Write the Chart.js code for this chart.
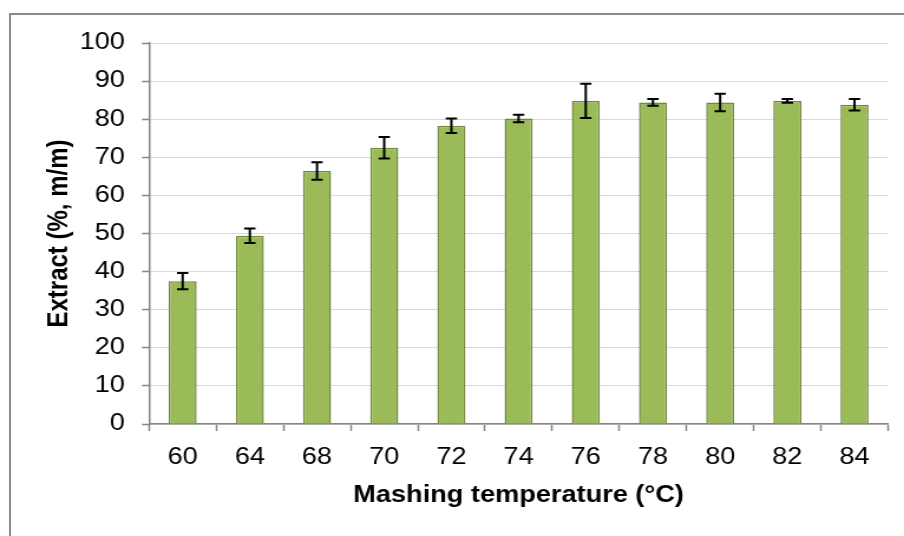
<!DOCTYPE html>
<html>
<head>
<meta charset="utf-8">
<script src="https://cdn.jsdelivr.net/npm/chart.js@4.4.1/dist/chart.umd.min.js"></script>
<style>
  html, body { margin: 0; padding: 0; background: #fff; overflow: hidden; }
  body { width: 904px; height: 536px; position: relative; }
  /* the chart is laid out narrower, then widened so the text gets the same broad look */
  #wrap { position: absolute; left: 0; top: 0; width: 766px; height: 536px;
          transform: scaleX(1.1802); transform-origin: 0 0; }
  #frame { position: absolute; left: 9px; top: 13px; width: 920px; height: 560px;
           border-top: 2px solid #8a8a8a; border-left: 2px solid #8a8a8a; pointer-events: none; }
</style>
</head>
<body>
<div id="wrap"><canvas id="extractChart" width="766" height="536"></canvas></div>
<div id="frame"></div>
<script>
// mashing temperature (°C) vs extract (%, m/m), with standard deviation
const temps = ['60', '64', '68', '70', '72', '74', '76', '78', '80', '82', '84'];
const extract = [37.5, 49.4, 66.4, 72.5, 78.3, 80.2, 84.8, 84.4, 84.4, 84.8, 83.8];
const extractSd = [2.1, 1.9, 2.3, 2.8, 1.9, 1.0, 4.5, 0.9, 2.3, 0.5, 1.5];
const yTicks = [0, 10, 20, 30, 40, 50, 60, 70, 80, 90, 100];

const axisGray = '#868686';
const fontFamily = '"Liberation Sans", Arial, sans-serif';

// draws the I-shaped error bars on top of every bar
const errorBars = {
  id: 'errorBars',
  afterDatasetsDraw(chart) {
    const ctx = chart.ctx;
    const yScale = chart.scales.y;
    const meta = chart.getDatasetMeta(0);
    ctx.save();
    ctx.strokeStyle = '#000';
    ctx.lineWidth = 2;
    meta.data.forEach((bar, i) => {
      const v = extract[i], e = extractSd[i];
      const yHi = yScale.getPixelForValue(v + e);
      const yLo = yScale.getPixelForValue(v - e);
      const cap = 4.8;
      ctx.beginPath();
      ctx.moveTo(bar.x, yHi); ctx.lineTo(bar.x, yLo);
      ctx.moveTo(bar.x - cap, yHi); ctx.lineTo(bar.x + cap, yHi);
      ctx.moveTo(bar.x - cap, yLo); ctx.lineTo(bar.x + cap, yLo);
      ctx.stroke();
    });
    ctx.restore();
  }
};

const ctx = document.getElementById('extractChart').getContext('2d');
const chart = new Chart(ctx, {
  type: 'bar',
  data: {
    labels: temps,
    datasets: [{
      label: 'Extract',
      data: extract,
      backgroundColor: '#9BBB59',
      borderColor: '#71893F',
      borderWidth: 1.5,
      categoryPercentage: 1,
      barPercentage: 0.417
    }]
  },
  options: {
    responsive: false,
    animation: false,
    devicePixelRatio: 1,
    layout: { padding: { left: 36.4, top: 43, right: 13.5, bottom: 26.6 } },
    plugins: { legend: { display: false }, tooltip: { enabled: false } },
    scales: {
      x: {
        grid: { display: true, drawOnChartArea: false, offset: true, tickLength: 7, tickColor: axisGray, tickWidth: 1.5 },
        border: { color: axisGray, width: 1.5 },
        ticks: { color: '#000', padding: 13, font: { family: fontFamily, size: 23 } },
        title: { display: true, text: 'Mashing temperature (°C)', color: '#000',
                 padding: { top: 0, bottom: 0 }, font: { family: fontFamily, size: 23, weight: 'bold' } },
        afterFit(scale) { scale.height = 85.4; }
      },
      y: {
        min: 0,
        max: 100,
        afterBuildTicks(scale) { scale.ticks = yTicks.map(v => ({ value: v })); },
        grid: { color: '#D9D9D9', lineWidth: 1, tickLength: 6, tickColor: axisGray, tickWidth: 1.5 },
        border: { color: axisGray, width: 1.5 },
        ticks: { color: '#000', padding: 14.4, font: { family: fontFamily, size: 23 } },
        title: { display: true, text: 'Extract (%, m/m)', color: '#000',
                 padding: { top: 0, bottom: 0 }, font: { family: fontFamily, size: 24, weight: 'bold' } },
        afterFit(scale) { scale.width = 89.9; }
      }
    }
  },
  plugins: [errorBars]
});
</script>
</body>
</html>
